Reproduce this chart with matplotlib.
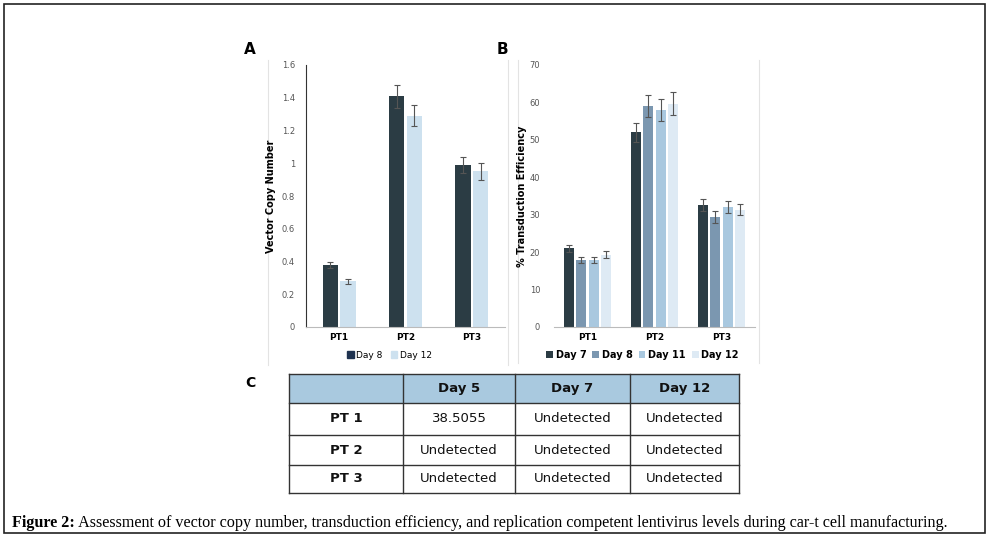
import numpy as np
import matplotlib.pyplot as plt
from matplotlib.patches import Rectangle
from matplotlib.lines import Line2D

W, H = 989, 541

# panel A data
patients = ['PT1', 'PT2', 'PT3']
vcn_day8 = [0.38, 1.41, 0.99]
vcn_day8_err = [0.02, 0.07, 0.05]
vcn_day12 = [0.28, 1.29, 0.95]
vcn_day12_err = [0.015, 0.065, 0.05]
vcn_ticks = [0, 0.2, 0.4, 0.6, 0.8, 1, 1.2, 1.4, 1.6]
vcn_ticklabels = ['0', '0.2', '0.4', '0.6', '0.8', '1', '1.2', '1.4', '1.6']

# panel B data
te_days = ['Day 7', 'Day 8', 'Day 11', 'Day 12']
te_values = [
    [21.0, 52.0, 32.7],
    [18.0, 59.0, 29.4],
    [18.0, 58.0, 32.0],
    [19.3, 59.7, 31.3],
]
te_errors = [
    [1.0, 2.5, 1.6],
    [0.8, 3.0, 1.5],
    [0.8, 3.0, 1.6],
    [0.9, 3.0, 1.5],
]
te_ticks = [0, 10, 20, 30, 40, 50, 60, 70]

# panel C table
table_cols = ['', 'Day 5', 'Day 7', 'Day 12']
table_rows = ['PT 1', 'PT 2', 'PT 3']
table_cells = [
    ['38.5055', 'Undetected', 'Undetected'],
    ['Undetected', 'Undetected', 'Undetected'],
    ['Undetected', 'Undetected', 'Undetected'],
]

caption_bold = 'Figure 2:'
caption_text = ' Assessment of vector copy number, transduction efficiency, and replication competent lentivirus levels during car-t cell manufacturing.'


def px_axes(fig, left, top, right, bottom):
    return fig.add_axes([left / W, 1 - bottom / H, (right - left) / W, (bottom - top) / H])


fig = plt.figure(figsize=(W / 100, H / 100), dpi=100)
fig.patch.set_facecolor('white')

# overlay axes in pixel coordinates for frame, labels, table
ov = fig.add_axes([0, 0, 1, 1], zorder=-1)
ov.set_xlim(0, W)
ov.set_ylim(H, 0)
ov.axis('off')

ov.add_patch(Rectangle((3.5, 3.5), 981.5, 529, fill=False, edgecolor='#222222', linewidth=1.2))
for x, y0, y1 in [(268, 60, 365), (508, 60, 365), (518, 60, 363), (759, 60, 363)]:
    ov.add_line(Line2D([x, x], [y0, y1], color='#e3e3e3', linewidth=0.8))

ov.text(250, 49, 'A', fontsize=11, fontweight='bold', ha='center', va='center')
ov.text(502, 49, 'B', fontsize=11, fontweight='bold', ha='center', va='center')
ov.text(250, 383, 'C', fontsize=10, fontweight='bold', ha='center', va='center')

# table C
col_x = [289, 403, 515, 630, 739]
row_y = [374, 403, 435, 465, 493]
ov.add_patch(Rectangle((col_x[0], row_y[0]), col_x[-1] - col_x[0], row_y[1] - row_y[0],
                       facecolor='#a9c9df', edgecolor='none'))
for x in col_x:
    ov.add_line(Line2D([x, x], [row_y[0], row_y[-1]], color='#333333', linewidth=1.0))
for y in row_y:
    ov.add_line(Line2D([col_x[0], col_x[-1]], [y, y], color='#333333', linewidth=1.0))
for j, name in enumerate(table_cols):
    cx = (col_x[j] + col_x[j + 1]) / 2
    ov.text(cx, (row_y[0] + row_y[1]) / 2, name, fontsize=9.5, fontweight='bold',
            ha='center', va='center', color='#111111')
for i, name in enumerate(table_rows):
    cy = (row_y[i + 1] + row_y[i + 2]) / 2
    ov.text((col_x[0] + col_x[1]) / 2, cy, name, fontsize=9.5, fontweight='bold',
            ha='center', va='center', color='#111111')
    for j, val in enumerate(table_cells[i]):
        cx = (col_x[j + 1] + col_x[j + 2]) / 2
        ov.text(cx, cy, val, fontsize=9.5, ha='center', va='center', color='#111111')

# caption
t = ov.text(12, 523, caption_bold, fontsize=11.6, fontweight='bold', family='Liberation Serif',
            ha='left', va='center')
fig.canvas.draw()
bb = t.get_window_extent()
ov.text(12 + bb.width, 523, caption_text, fontsize=11.6, family='Liberation Serif',
        ha='left', va='center')

# panel A
axA = px_axes(fig, 306, 65, 505, 327)
x = np.arange(len(patients))
bw = 0.23
gap = 0.02
errkw = dict(ecolor='#555555', elinewidth=0.8, capsize=2, capthick=0.8)
axA.bar(x - bw / 2 - gap, vcn_day8, bw, yerr=vcn_day8_err, color='#2b3c44',
        error_kw=errkw, label='Day 8')
axA.bar(x + bw / 2 + gap, vcn_day12, bw, yerr=vcn_day12_err, color='#cde1ef',
        error_kw=errkw, label='Day 12')
axA.set_xlim(-0.5, 2.5)
axA.set_ylim(0, 1.6)
axA.set_yticks(vcn_ticks)
axA.set_yticklabels(vcn_ticklabels)
axA.set_xticks(x)
axA.set_xticklabels(patients, fontweight='bold')
axA.tick_params(axis='y', length=0, labelsize=6, labelcolor='#555555', pad=8)
axA.tick_params(axis='x', length=0, labelsize=6.5, pad=4)
for s in ['top', 'right']:
    axA.spines[s].set_visible(False)
axA.spines['left'].set_color('#333333')
axA.spines['left'].set_linewidth(0.8)
axA.spines['bottom'].set_color('#bbbbbb')
axA.spines['bottom'].set_linewidth(0.8)
axA.set_ylabel('Vector Copy Number', fontsize=7, fontweight='bold', labelpad=4)
hA = [Rectangle((0, 0), 1, 1, color='#1f3350'), Rectangle((0, 0), 1, 1, color='#cde1ef')]
axA.legend(hA, ['Day 8', 'Day 12'], loc='center', bbox_to_anchor=(0.42, -0.107), ncol=2,
           frameon=False, fontsize=6.5, handlelength=0.7, handleheight=0.7,
           handletextpad=0.3, columnspacing=0.9)

# panel B
axB = px_axes(fig, 554, 65, 755, 327)
colors_b = ['#2b3c44', '#7b97b0', '#a9c8df', '#deeaf4']
bwb = 0.15
step = 0.18
for k, day in enumerate(te_days):
    off = (k - 1.5) * step
    axB.bar(x + off, te_values[k], bwb, yerr=te_errors[k], color=colors_b[k],
            error_kw=errkw, label=day)
axB.set_xlim(-0.5, 2.5)
axB.set_ylim(0, 70)
axB.set_yticks(te_ticks)
axB.set_xticks(x)
axB.set_xticklabels(patients, fontweight='bold')
axB.tick_params(axis='y', length=0, labelsize=6, labelcolor='#555555', pad=10)
axB.tick_params(axis='x', length=0, labelsize=6.5, pad=4)
for s in ['top', 'right', 'left']:
    axB.spines[s].set_visible(False)
axB.spines['bottom'].set_color('#bbbbbb')
axB.spines['bottom'].set_linewidth(0.8)
axB.set_ylabel('% Transduction Efficiency', fontsize=7, fontweight='bold', labelpad=2)
axB.legend(loc='center', bbox_to_anchor=(0.44, -0.107), ncol=4, frameon=False,
           prop={'size': 7, 'weight': 'bold'}, handlelength=0.7, handleheight=0.7,
           handletextpad=0.3, columnspacing=0.6)

fig.savefig('out.png', dpi=100)
